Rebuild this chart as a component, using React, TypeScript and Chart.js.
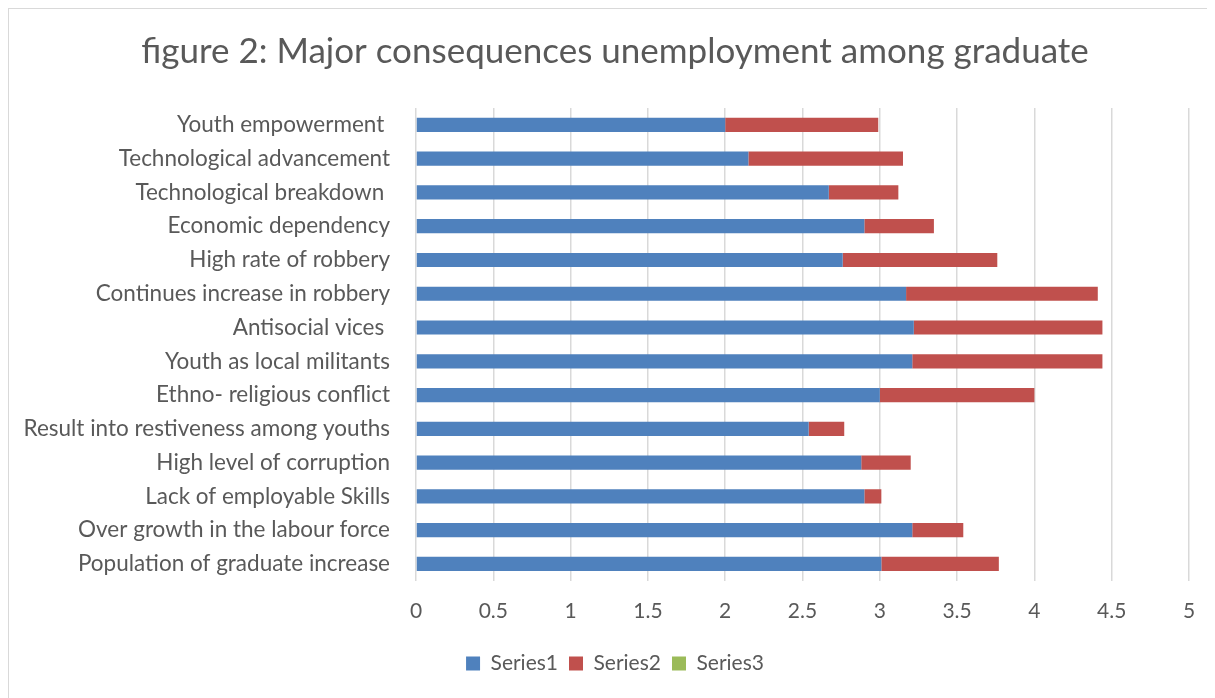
import React, { useEffect, useRef } from "react";
import { Chart, registerables } from "chart.js";

Chart.register(...registerables);

const categories = [
  "Youth empowerment ",
  "Technological advancement",
  "Technological breakdown ",
  "Economic dependency",
  "High rate of robbery",
  "Continues increase in robbery",
  "Antisocial vices ",
  "Youth as local militants",
  "Ethno- religious conflict",
  "Result into restiveness among youths",
  "High level of corruption",
  "Lack of employable Skills",
  "Over growth in the labour force",
  "Population of graduate increase",
];

const series1 = [2.0, 2.15, 2.67, 2.9, 2.76, 3.17, 3.22, 3.21, 3.0, 2.54, 2.88, 2.9, 3.21, 3.01];
const series2 = [0.99, 1.0, 0.45, 0.45, 1.0, 1.24, 1.22, 1.23, 1.0, 0.23, 0.32, 0.11, 0.33, 0.76];
const series3 = [0, 0, 0, 0, 0, 0, 0, 0, 0, 0, 0, 0, 0, 0];

const xTicks = [0, 0.5, 1, 1.5, 2, 2.5, 3, 3.5, 4, 4.5, 5];
const xTickLabels = ["0", "0.5", "1", "1.5", "2", "2.5", "3", "3.5", "4", "4.5", "5"];

const TEXT = "#595959";
const FONT = "Lato, 'Open Sans', sans-serif";

export default function App() {
  const ref = useRef<HTMLCanvasElement | null>(null);

  useEffect(() => {
    if (!ref.current) return;
    const chart = new Chart(ref.current, {
      type: "bar",
      data: {
        labels: categories,
        datasets: [
          { label: "Series1", data: series1, backgroundColor: "#4f81bd", barPercentage: 0.42, categoryPercentage: 1 },
          { label: "Series2", data: series2, backgroundColor: "#c0504d", barPercentage: 0.42, categoryPercentage: 1 },
          { label: "Series3", data: series3, backgroundColor: "#9bbb59", barPercentage: 0.42, categoryPercentage: 1 },
        ],
      },
      options: {
        indexAxis: "y",
        animation: false,
        responsive: false,
        maintainAspectRatio: false,
        layout: { padding: { left: 8, right: 2, top: 0, bottom: 15 } },
        plugins: {
          title: {
            display: true,
            text: "figure 2: Major consequences unemployment among graduate",
            color: TEXT,
            font: { family: FONT, size: 35, weight: "normal" },
            padding: { top: 22, bottom: 35 },
          },
          legend: {
            position: "bottom",
            labels: {
              color: TEXT,
              font: { family: FONT, size: 21 },
              boxWidth: 14,
              boxHeight: 14,
              padding: 11,
            },
          },
          tooltip: { enabled: false },
        },
        scales: {
          x: {
            stacked: true,
            min: 0,
            max: 5,
            afterBuildTicks: (scale: any) => {
              scale.ticks = xTicks.map((v) => ({ value: v }));
            },
            grid: { color: "#d9d9d9", lineWidth: 1.5, drawTicks: false },
            border: { display: false },
            ticks: {
              color: TEXT,
              font: { family: FONT, size: 21 },
              padding: 18,
              callback: (_v: any, i: number) => xTickLabels[i],
            },
          },
          y: {
            stacked: true,
            grid: { display: false, drawTicks: false },
            border: { display: false },
            ticks: {
              color: TEXT,
              font: { family: FONT, size: 22.5 },
              padding: 26,
            },
            afterFit: (scale: any) => {
              scale.width = 399;
            },
          },
          yRight: {
            type: "linear",
            position: "right",
            display: true,
            grid: { display: false, drawTicks: false },
            border: { display: false },
            ticks: { display: false },
            afterFit: (scale: any) => {
              scale.width = 24;
            },
          },
        },
      },
    });
    return () => chart.destroy();
  }, []);

  return (
    <div
      style={{
        width: 1206,
        height: 690,
        borderLeft: "1px solid #d9d9d9",
        borderTop: "1px solid #d9d9d9",
        background: "#fff",
      }}
    >
      <canvas ref={ref} width={1206} height={690} style={{ display: "block" }} />
    </div>
  );
}
